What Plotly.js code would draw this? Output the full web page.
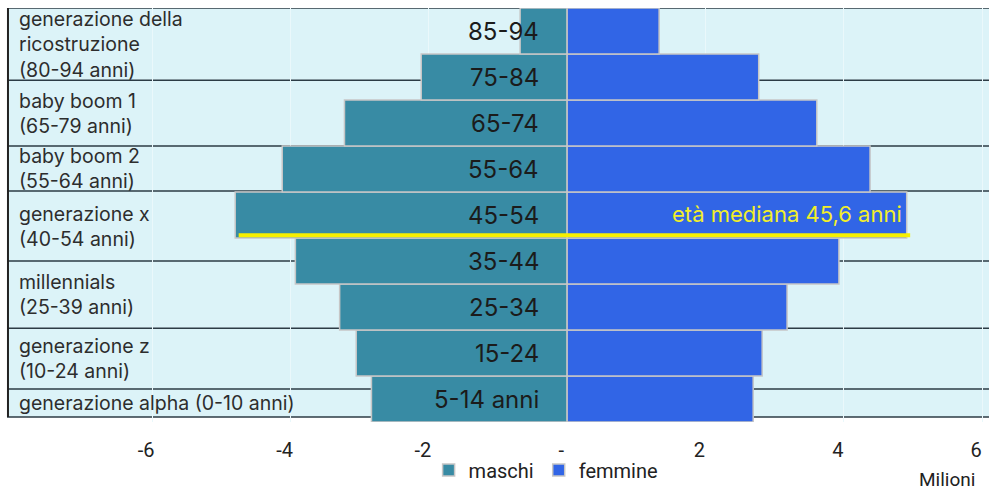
<!DOCTYPE html>
<html>
<head>
<meta charset="utf-8">
<script src="https://cdn.plot.ly/plotly-3.0.1.min.js"></script>
<style>
  html, body { margin: 0; padding: 0; background: #ffffff; }
  #chart { width: 989px; height: 493px; }
</style>
</head>
<body>
<div id="chart"></div>
<script>
// Popolazione per classi di età (milioni), dal basso verso l'alto
const ageGroups = ['5-14 anni', '15-24', '25-34', '35-44', '45-54', '55-64', '65-74', '75-84', '85-94'];
const maschi    = [2.83, 3.05, 3.29, 3.93, 4.80, 4.12, 3.22, 2.11, 0.68];
const femmine   = [2.69, 2.82, 3.18, 3.93, 4.91, 4.38, 3.61, 2.77, 1.33];

// Generazioni, dall'alto verso il basso
const generations = [
  'generazione della<br>ricostruzione<br>(80-94 anni)',
  'baby boom 1<br>(65-79 anni)',
  'baby boom 2<br>(55-64 anni)',
  'generazione x<br>(40-54 anni)',
  'millennials<br>(25-39 anni)',
  'generazione z<br>(10-24 anni)',
  'generazione alpha (0-10 anni)'
];
// Confini delle fasce generazionali, in anni d'età sulla scala delle barre
const generationEdges = [95, 79.3, 65, 55.2, 40, 25.4, 12.2, 6.1];

const medianAge = 45.6;
const medianLabel = 'età mediana 45,6 anni';

const xTicks = [-6, -4, -2, 0, 2, 4, 6];
const xTickText = ['-6', '-4', '-2', '-', '2', '4', '6'];

// Ogni barra copre 10 anni: la classe i ha centro in i
const ageToY = a => (a - 10) / 10;

const colMaschi = '#388ba4';
const colFemmine = '#3165e6';
const bandFill = '#dcf3f8';
const sepLine = '#2c3b45';
const labelFont = 'Inter, "Noto Sans", sans-serif';
const axisFont = 'Roboto, "Liberation Sans", sans-serif';

const yIdx = ageGroups.map((_, i) => i);

const traces = [
  {
    type: 'bar', orientation: 'h', name: 'maschi',
    y: yIdx, x: maschi.map(v => -v),
    marker: { color: colMaschi, line: { color: '#c6c6c6', width: 1.5 } },
    hoverinfo: 'skip'
  },
  {
    type: 'bar', orientation: 'h', name: 'femmine',
    y: yIdx, x: femmine,
    marker: { color: colFemmine, line: { color: '#c6c6c6', width: 1.5 } },
    hoverinfo: 'skip'
  }
];

const edgesY = generationEdges.map(ageToY);
const shapes = [];
// fondo delle fasce
shapes.push({
  type: 'rect', layer: 'below', xref: 'paper', yref: 'y',
  x0: 0, x1: 1, y0: edgesY[edgesY.length - 1], y1: edgesY[0],
  fillcolor: bandFill, line: { width: 0 }
});
// separatori
edgesY.forEach(y => {
  shapes.push({
    type: 'line', layer: 'below', xref: 'paper', yref: 'y',
    x0: 0, x1: 1, y0: y, y1: y,
    line: { color: sepLine, width: 1.5 }
  });
});
// bordo sinistro
shapes.push({
  type: 'line', layer: 'below', xref: 'paper', yref: 'y',
  x0: 0.001, x1: 0.001, y0: edgesY[edgesY.length - 1], y1: edgesY[0],
  line: { color: '#222', width: 2 }
});
// linea dell'età mediana
const yMed = ageToY(medianAge);
shapes.push({
  type: 'line', layer: 'above', xref: 'x', yref: 'y',
  x0: -maschi[4] + 0.05, x1: femmine[4] + 0.05, y0: yMed, y1: yMed,
  line: { color: '#f7f000', width: 4 }
});

const annotations = [];
// etichette delle classi d'età al centro
ageGroups.forEach((g, i) => {
  annotations.push({
    xref: 'x', yref: 'y', x: 0, y: i, text: g, showarrow: false,
    xanchor: 'right', yanchor: 'middle', xshift: -26,
    font: { family: labelFont, size: 24, color: '#1b1b1b' }
  });
});
// etichette delle generazioni
generations.forEach((g, i) => {
  annotations.push({
    xref: 'paper', yref: 'y', x: 0, y: (edgesY[i] + edgesY[i + 1]) / 2,
    text: g, showarrow: false, align: 'left',
    xanchor: 'left', yanchor: 'middle', xshift: 10,
    font: { family: labelFont, size: 19.5, color: '#2d2d2d' }
  });
});
// età mediana
annotations.push({
  xref: 'x', yref: 'y', x: femmine[4], y: yMed, text: medianLabel,
  showarrow: false, xanchor: 'right', yanchor: 'bottom', xshift: -3, yshift: 6,
  font: { family: labelFont, size: 22, color: '#f2ee2a' }
});
// unità di misura
annotations.push({
  xref: 'paper', yref: 'paper', x: 0.988, y: -0.14, text: 'Milioni',
  showarrow: false, xanchor: 'right', yanchor: 'middle',
  font: { family: axisFont, size: 19, color: '#222' }
});

const layout = {
  width: 989, height: 493,
  margin: { l: 7, r: 0, t: 8, b: 71 },
  paper_bgcolor: '#ffffff', plot_bgcolor: '#ffffff',
  barmode: 'relative', bargap: 0,
  xaxis: {
    range: [-8.1, 6.1], tickvals: xTicks, ticktext: xTickText,
    showgrid: true, gridcolor: '#eaf8fb', gridwidth: 1,
    zeroline: false, showline: false, ticks: '',
    ticklabelshift: -6, ticklabelstandoff: 14,
    tickfont: { family: axisFont, size: 20, color: '#222' },
    fixedrange: true
  },
  yaxis: {
    range: [-0.5, 8.5], showgrid: false, zeroline: false,
    showticklabels: false, showline: false, ticks: '', fixedrange: true
  },
  showlegend: true,
  legend: {
    orientation: 'h', x: 0.549, xanchor: 'center', y: -0.116, yanchor: 'middle',
    font: { family: axisFont, size: 20, color: '#222' },
    itemwidth: 30, traceorder: 'normal', bgcolor: 'rgba(0,0,0,0)'
  },
  shapes: shapes,
  annotations: annotations
};

Plotly.newPlot('chart', traces, layout, { displayModeBar: false, staticPlot: true });
</script>
</body>
</html>
